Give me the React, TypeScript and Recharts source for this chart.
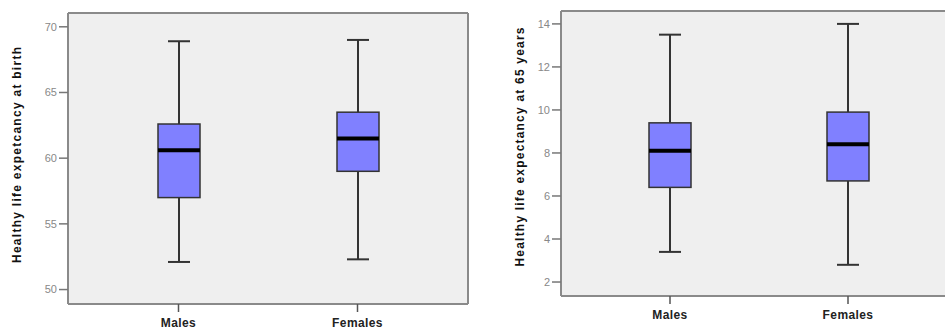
import { Bar, CartesianGrid, ComposedChart, XAxis, YAxis } from "recharts"

const categories = ["Males", "Females"]

// healthy life expectancy at birth
const birthMin = [52.1, 52.3]
const birthQ1 = [57.0, 59.0]
const birthMedian = [60.6, 61.5]
const birthQ3 = [62.6, 63.5]
const birthMax = [68.9, 69.0]
const birthTicks = [50, 55, 60, 65, 70]

// healthy life expectancy at 65
const age65Min = [3.4, 2.8]
const age65Q1 = [6.4, 6.7]
const age65Median = [8.1, 8.4]
const age65Q3 = [9.4, 9.9]
const age65Max = [13.5, 14.0]
const age65Ticks = [2, 4, 6, 8, 10, 12, 14]

const font = "'Liberation Sans', Arial, sans-serif"

function buildRows(min: number[], q1: number[], med: number[], q3: number[], max: number[]) {
  return categories.map((name, i) => ({
    name,
    range: [min[i], max[i]],
    min: min[i],
    q1: q1[i],
    median: med[i],
    q3: q3[i],
    max: max[i],
  }))
}

const birthData = buildRows(birthMin, birthQ1, birthMedian, birthQ3, birthMax)
const age65Data = buildRows(age65Min, age65Q1, age65Median, age65Q3, age65Max)

// box drawn inside the bar that spans min..max
function BoxShape(props: any) {
  const { x, y, width, height, payload } = props
  const top = Math.min(y, y + height)
  const h = Math.abs(height)
  const span = payload.max - payload.min
  const py = (v: number) => top + ((payload.max - v) / span) * h
  const cx = x + width / 2
  const cap = 11
  return (
    <g>
      <line x1={cx} x2={cx} y1={py(payload.max)} y2={py(payload.q3)} stroke="#333" strokeWidth={2} />
      <line x1={cx} x2={cx} y1={py(payload.q1)} y2={py(payload.min)} stroke="#333" strokeWidth={2} />
      <line x1={cx - cap} x2={cx + cap} y1={py(payload.max)} y2={py(payload.max)} stroke="#333" strokeWidth={2} />
      <line x1={cx - cap} x2={cx + cap} y1={py(payload.min)} y2={py(payload.min)} stroke="#333" strokeWidth={2} />
      <rect
        x={x}
        y={py(payload.q3)}
        width={width}
        height={py(payload.q1) - py(payload.q3)}
        fill="#8080ff"
        stroke="#333"
        strokeWidth={1.5}
      />
      <line x1={x} x2={x + width} y1={py(payload.median)} y2={py(payload.median)} stroke="#000" strokeWidth={4} />
    </g>
  )
}

function YTitle({ value, cx, cy, length }: { value: string; cx: number; cy: number; length: number }) {
  return (
    <text
      x={cx}
      y={cy}
      transform={`rotate(-90 ${cx} ${cy})`}
      textAnchor="middle"
      dominantBaseline="central"
      fontFamily={font}
      fontSize={12}
      fontWeight="bold"
      fill="#111"
      textLength={length}
      lengthAdjust="spacing"
    >
      {value}
    </text>
  )
}

// frame lines on the edges of the plot area
const frameRows = ({ offset }: any) => [offset.top, offset.top + offset.height]
const frameCols = ({ offset }: any) => [offset.left, offset.left + offset.width]
const frameLeft = ({ offset }: any) => [offset.left]

type PanelProps = {
  data: any[]
  width: number
  margin: { top: number; right: number; bottom: number; left: number }
  domain: [number, number]
  ticks: number[]
  xHeight: number
  pad: number
  rightFrame: boolean
  title: string
  titleX: number
  titleY: number
  titleLength: number
}

function BoxPanel(p: PanelProps) {
  return (
    <ComposedChart width={p.width} height={329} data={p.data} margin={p.margin}>
      <CartesianGrid
        fill="#efefef"
        fillOpacity={1}
        stroke="#8a8a8a"
        strokeWidth={2}
        horizontalCoordinatesGenerator={frameRows}
        verticalCoordinatesGenerator={p.rightFrame ? frameCols : frameLeft}
      />
      <XAxis
        dataKey="name"
        height={p.xHeight}
        padding={{ left: p.pad, right: p.pad }}
        axisLine={{ stroke: "#8a8a8a", strokeWidth: 2 }}
        tickLine={{ stroke: "#555", strokeWidth: 1.5 }}
        tickSize={8}
        tickMargin={6}
        tick={{ fontFamily: font, fontSize: 12, fontWeight: "bold", fill: "#222", letterSpacing: 0.4 }}
      />
      <YAxis
        width={40}
        type="number"
        domain={p.domain}
        ticks={p.ticks}
        allowDataOverflow
        axisLine={{ stroke: "#8a8a8a", strokeWidth: 2 }}
        tickLine={{ stroke: "#777", strokeWidth: 1.5 }}
        tickSize={9}
        tickMargin={2}
        tick={{ fontFamily: font, fontSize: 11, fill: "#888" }}
        label={{
          content: () => <YTitle value={p.title} cx={p.titleX} cy={p.titleY} length={p.titleLength} />,
        }}
      />
      <Bar dataKey="range" barSize={42} shape={<BoxShape />} isAnimationActive={false} />
    </ComposedChart>
  )
}

export default function App() {
  return (
    <div
      style={{
        position: "absolute",
        left: 0,
        top: 0,
        width: 945,
        height: 329,
        overflow: "hidden",
        background: "#fff",
      }}
    >
      <div style={{ position: "absolute", left: 0, top: 0 }}>
        <BoxPanel
          data={birthData}
          width={470}
          margin={{ top: 13, right: 2, bottom: 0, left: 28 }}
          domain={[48.9, 71.05]}
          ticks={birthTicks}
          xHeight={25}
          pad={21}
          rightFrame
          title="Healthy life expetcancy at birth"
          titleX={17}
          titleY={155}
          titleLength={216}
        />
      </div>
      <div style={{ position: "absolute", left: 480, top: 0 }}>
        <BoxPanel
          data={age65Data}
          width={465}
          margin={{ top: 11, right: -12, bottom: 0, left: 41 }}
          domain={[1.35, 14.6]}
          ticks={age65Ticks}
          xHeight={33}
          pad={20}
          rightFrame={false}
          title="Healthy life expectancy at 65 years"
          titleX={40}
          titleY={147}
          titleLength={239}
        />
      </div>
    </div>
  )
}
